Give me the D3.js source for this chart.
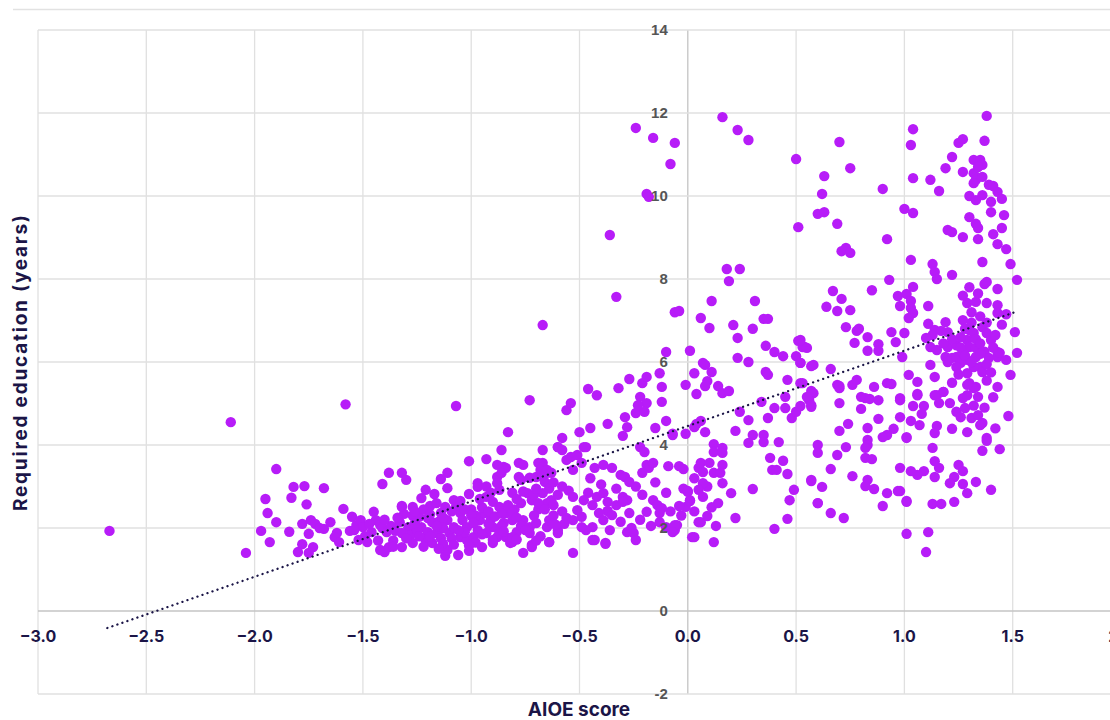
<!DOCTYPE html>
<html>
<head>
<meta charset="utf-8">
<script src="https://cdn.jsdelivr.net/npm/d3@7"></script>
<style>
  html, body { margin: 0; padding: 0; background: #fff; }
  svg { display: block; }
</style>
</head>
<body>
<div id="chart"></div>
<script>
// x ticks / y ticks
var xTicks = [-3.0, -2.5, -2.0, -1.5, -1.0, -0.5, 0.0, 0.5, 1.0, 1.5, 2.0];
var yTicks = [-2, 0, 2, 4, 6, 8, 10, 12, 14];

// occupations: [AIOE score, required education (years)]
var leftTail = [
  [-2.67, 1.93], [-2.11, 4.55], [-2.04, 1.40], [-1.58, 4.98], [-1.90, 3.42], [-1.95, 2.70],
  [-1.94, 2.36], [-1.90, 2.14], [-1.97, 1.93], [-1.93, 1.66], [-1.82, 2.99], [-1.77, 3.01],
  [-1.83, 2.73], [-1.76, 2.57], [-1.68, 2.96], [-1.84, 1.91], [-1.78, 2.10], [-1.74, 2.19],
  [-1.72, 2.10], [-1.70, 2.00], [-1.68, 1.98], [-1.75, 1.86], [-1.78, 1.61], [-1.80, 1.42],
  [-1.73, 1.54], [-1.75, 1.40], [-1.65, 2.14], [-1.62, 1.88], [-1.63, 1.78], [-1.61, 1.66],
  [-1.59, 2.46], [-1.55, 2.27], [-1.53, 2.07], [-1.51, 2.19], [-1.50, 2.02], [-1.56, 1.93],
  [-1.54, 1.95], [-1.52, 1.71], [-1.48, 1.66], [-1.45, 2.39], [-1.44, 2.19], [-1.42, 2.07],
  [-1.41, 3.06], [-1.38, 3.33], [-1.32, 3.33], [-1.30, 3.16], [-1.32, 2.51], [-1.31, 2.34],
  [-1.41, 2.00], [-1.39, 1.90], [-1.35, 1.93], [-1.33, 2.14], [-1.42, 1.47], [-1.40, 1.42],
  [-1.38, 1.54], [-1.32, 1.54]
];

var lowCluster = [
  [-1.07, 4.94], [-0.73, 5.08], [-0.83, 4.31], [-0.86, 3.88], [-0.67, 3.88], [-0.60, 3.95],
  [-1.01, 3.61], [-0.93, 3.66], [-1.14, 3.18], [-1.11, 3.33], [-1.11, 2.96], [-1.21, 2.92],
  [-1.17, 2.82], [-1.23, 2.72], [-1.32, 2.53], [-1.27, 2.51], [-1.19, 2.53], [-1.29, 2.02],
  [-1.32, 1.88], [-1.28, 1.83], [-1.27, 1.64], [-1.24, 2.27], [-1.20, 2.24], [-1.18, 2.14],
  [-1.14, 2.36], [-1.12, 2.51], [-1.11, 2.19], [-1.23, 2.02], [-1.20, 1.90], [-1.16, 1.88],
  [-1.13, 2.00], [-1.10, 1.88], [-1.21, 1.71], [-1.18, 1.64], [-1.14, 1.76], [-1.12, 1.33],
  [-1.11, 1.47], [-1.06, 1.35], [-1.01, 1.45], [-0.95, 1.54], [-0.90, 1.64], [-1.08, 2.67],
  [-1.07, 2.51], [-1.05, 2.36], [-1.04, 2.19], [-1.02, 2.02], [-1.08, 2.02], [-1.05, 1.78],
  [-1.02, 1.71], [-0.99, 1.78], [-0.97, 1.95], [-0.96, 2.19], [-0.94, 2.36], [-0.97, 3.08],
  [-0.97, 2.99], [-0.93, 2.75], [-0.90, 2.63], [-0.87, 2.92], [-0.88, 3.23], [-0.85, 3.47],
  [-0.84, 3.45], [-0.87, 2.51], [-0.84, 2.36], [-0.81, 2.19], [-0.85, 2.12], [-0.90, 2.02],
  [-0.93, 1.88], [-0.88, 1.78], [-0.84, 1.78], [-0.81, 1.66], [-0.79, 1.90], [-0.78, 3.57],
  [-0.76, 3.52], [-0.78, 3.23], [-0.77, 3.16], [-0.73, 3.21], [-0.70, 3.23], [-0.68, 3.40],
  [-0.67, 3.57], [-0.65, 3.33], [-0.74, 2.84], [-0.72, 2.67], [-0.67, 2.84], [-0.65, 2.60],
  [-0.63, 2.67], [-0.60, 2.80], [-0.76, 2.19], [-0.73, 2.02], [-0.70, 2.12], [-0.65, 2.02],
  [-0.64, 2.19], [-0.60, 1.95], [-0.73, 1.88], [-0.72, 1.59], [-0.76, 1.40], [-0.64, 1.66],
  [-1.27, 2.30], [-1.25, 1.95], [-1.36, 1.70], [-1.16, 2.60], [-1.00, 2.45], [-0.98, 2.30],
  [-0.91, 2.20], [-0.86, 2.05], [-0.80, 2.45], [-0.77, 2.60], [-0.69, 2.45], [-0.62, 2.30],
  [-0.88, 3.52], [-0.86, 3.33], [-0.88, 3.08], [-0.69, 3.57], [-0.67, 3.47], [-0.65, 3.40],
  [-0.67, 3.23], [-0.63, 3.33], [-0.66, 3.11], [-0.53, 1.40], [-0.64, 1.66], [-0.60, 1.88],
  [-0.72, 1.54], [-0.82, 1.64], [-0.81, 1.78], [-0.87, 1.88], [-0.90, 1.71]
];

var lowClusterFill = [
  [-1.26, 2.40], [-1.22, 2.45], [-1.19, 2.33], [-1.15, 2.15], [-1.13, 2.25], [-1.09, 2.40],
  [-1.06, 2.55], [-1.03, 2.45], [-1.00, 2.30], [-0.99, 2.12], [-1.03, 1.90], [-1.06, 1.95],
  [-1.09, 1.75], [-1.13, 1.62], [-1.16, 2.05], [-1.19, 1.80], [-1.24, 1.80], [-1.26, 2.12],
  [-0.95, 2.50], [-0.92, 2.40], [-0.92, 2.10], [-0.89, 2.28], [-0.86, 2.35], [-0.83, 2.55],
  [-0.81, 2.38], [-0.79, 2.25], [-0.77, 2.05], [-0.75, 1.95], [-0.71, 2.30], [-0.69, 2.60],
  [-0.66, 2.45], [-0.62, 2.55], [-0.58, 2.40], [-0.57, 2.10], [-0.61, 2.08], [-0.68, 1.80],
  [-0.70, 1.70], [-0.79, 1.72], [-0.85, 1.92], [-0.95, 1.85], [-0.98, 1.65], [-1.01, 1.58],
  [-1.08, 1.60], [-1.15, 1.50], [-1.22, 1.55], [-1.30, 1.75], [-1.34, 2.25], [-1.37, 2.05],
  [-1.40, 2.20], [-1.46, 1.90], [-1.47, 2.10], [-1.49, 1.80], [-1.36, 1.55], [-1.43, 1.70],
  [-0.96, 2.70], [-1.01, 2.82], [-1.05, 2.65], [-0.93, 3.00], [-0.91, 2.85], [-0.81, 2.85],
  [-0.79, 2.70], [-0.76, 2.88], [-0.71, 2.80], [-0.70, 2.95], [-0.64, 2.95], [-0.62, 3.10],
  [-0.58, 3.00], [-0.55, 2.90], [-0.46, 2.85], [-0.44, 2.55], [-0.42, 2.75], [-0.45, 3.20],
  [-0.43, 3.45], [-0.40, 3.05], [-0.33, 2.95], [-0.33, 2.55], [-0.31, 2.15], [-0.28, 1.90],
  [-0.22, 2.20], [-0.17, 2.05], [-0.21, 2.80], [-0.24, 3.00], [-0.15, 3.10], [-0.10, 2.85],
  [-0.08, 2.40], [-0.03, 2.30], [-0.02, 2.95], [0.03, 3.20], [0.05, 3.45], [0.09, 3.00],
  [0.11, 2.50], [0.13, 2.05], [0.03, 2.40]
];

var midCloud = [
  [-0.67, 6.89], [-0.60, 3.95], [-0.58, 3.88], [-0.58, 4.17], [-0.54, 3.71], [-0.51, 3.76],
  [-0.56, 3.64], [-0.53, 3.40], [-0.49, 3.57], [-0.48, 3.95], [-0.47, 3.95], [-0.50, 4.31],
  [-0.45, 4.41], [-0.56, 4.84], [-0.54, 5.01], [-0.46, 5.35], [-0.42, 5.20], [-0.37, 4.51],
  [-0.32, 5.37], [-0.27, 5.59], [-0.21, 5.49], [-0.19, 5.64], [-0.13, 5.73], [-0.12, 5.40],
  [-0.10, 6.24], [0.01, 6.27], [-0.30, 4.22], [-0.28, 4.43], [-0.29, 4.67], [-0.24, 4.77],
  [-0.22, 5.16], [-0.19, 5.01], [-0.20, 4.80], [-0.23, 4.96], [-0.12, 5.04], [-0.15, 4.41],
  [-0.10, 4.58], [-0.07, 4.27], [-0.01, 4.27], [-0.01, 5.45], [0.03, 5.73], [0.04, 5.23],
  [-0.22, 3.95], [-0.20, 3.83], [-0.19, 3.52], [-0.18, 3.45], [-0.21, 3.33], [-0.16, 3.57],
  [-0.09, 3.49], [-0.04, 3.49], [-0.02, 3.42], [-0.39, 3.52], [-0.35, 3.45], [-0.31, 3.28],
  [-0.29, 3.23], [-0.27, 3.11], [-0.39, 2.84], [-0.37, 2.63], [-0.37, 2.41], [-0.35, 2.31],
  [-0.41, 2.36], [-0.44, 2.02], [-0.39, 2.19], [-0.36, 1.95], [-0.38, 1.64], [-0.43, 1.71],
  [-0.47, 1.95], [-0.49, 2.27], [-0.48, 2.67], [-0.53, 2.75], [-0.51, 2.43], [-0.56, 2.24],
  [-0.53, 2.19], [-0.49, 2.02], [-0.30, 2.75], [-0.28, 2.67], [-0.30, 2.63], [-0.27, 2.36],
  [-0.25, 1.88], [-0.24, 1.71], [-0.26, 2.00], [-0.19, 2.39], [-0.16, 2.67], [-0.14, 2.55],
  [-0.13, 2.36], [-0.12, 2.48], [-0.13, 2.14], [-0.10, 2.02], [-0.06, 1.95], [-0.05, 2.07],
  [0.00, 2.87], [0.01, 2.67], [-0.01, 2.51], [0.05, 2.14], [0.02, 1.78], [-0.06, 2.07],
  [-0.07, 1.90], [-0.44, 1.71], [-0.38, 1.62]
];

var highOutliers = [
  [-0.24, 11.64], [-0.16, 11.40], [-0.06, 11.28], [-0.08, 10.77], [-0.19, 10.05], [-0.18, 9.98],
  [-0.36, 9.06], [-0.33, 7.57], [0.16, 11.90], [0.23, 11.59], [0.28, 11.35], [0.50, 10.89],
  [0.51, 9.25], [0.60, 9.57], [0.18, 8.24], [0.24, 8.24], [0.19, 7.95], [-0.06, 7.20],
  [-0.04, 7.23], [0.11, 7.47], [0.06, 7.06], [0.10, 6.82], [0.31, 7.47], [0.35, 7.04],
  [0.37, 7.04], [0.21, 6.89], [0.30, 6.80], [0.23, 6.58], [0.23, 6.10], [0.28, 6.00],
  [0.36, 6.39], [0.40, 6.24], [0.44, 6.14], [0.51, 6.51], [0.54, 6.36], [0.50, 6.14],
  [0.52, 5.98], [0.58, 5.93]
];

var posCloud = [
  [0.07, 5.98], [0.08, 5.93], [0.11, 5.76], [0.09, 5.54], [0.08, 5.42], [0.14, 5.42],
  [0.16, 5.25], [0.19, 5.30], [0.36, 5.76], [0.37, 5.69], [0.46, 5.57], [0.53, 5.49],
  [0.58, 5.25], [0.56, 5.13], [0.06, 4.58], [0.04, 4.51], [0.03, 4.43], [0.08, 4.31],
  [0.12, 4.02], [-0.07, 4.24], [0.24, 4.80], [0.28, 4.60], [0.22, 4.34], [0.30, 4.24],
  [0.28, 4.05], [0.35, 4.24], [0.35, 4.07], [0.37, 4.65], [0.40, 4.89], [0.34, 5.04],
  [0.42, 4.07], [0.38, 3.69], [0.39, 3.40], [0.41, 3.40], [0.44, 3.62], [0.46, 3.30],
  [0.45, 4.89], [0.48, 4.65], [0.50, 4.80], [0.45, 5.16], [0.52, 5.49], [0.56, 5.08],
  [0.57, 4.92], [0.06, 3.57], [0.10, 3.57], [0.07, 3.35], [0.12, 3.33], [0.15, 3.33],
  [0.16, 3.52], [0.16, 3.08], [0.07, 3.08], [0.12, 3.83], [0.16, 3.93], [0.16, 3.81],
  [0.05, 2.92], [0.07, 2.75], [0.01, 2.65], [0.00, 2.89], [-0.04, 2.53], [0.06, 2.14],
  [0.09, 2.29], [0.03, 1.78], [0.12, 1.66], [0.14, 2.60], [0.20, 2.84], [0.22, 2.24],
  [0.30, 2.94], [0.40, 1.98], [0.46, 2.22], [0.47, 2.67], [0.49, 2.92], [0.57, 3.16],
  [0.60, 2.60]
];

var rightCloud = [
  [1.38, 11.93], [1.37, 11.33], [1.04, 11.61], [1.03, 11.23], [0.70, 11.30], [0.75, 10.67],
  [0.63, 10.48], [0.62, 10.05], [1.04, 10.43], [1.12, 10.39], [1.16, 10.12], [1.22, 10.94],
  [1.19, 10.67], [1.25, 11.28], [1.27, 11.37], [1.27, 10.58], [1.32, 10.87], [1.35, 10.87],
  [1.32, 10.55], [1.33, 10.39], [1.36, 10.46], [1.32, 10.31], [1.30, 10.00], [1.33, 9.90],
  [1.36, 10.02], [1.36, 10.75], [1.34, 10.70], [1.39, 10.27], [1.41, 10.24], [1.43, 10.10],
  [1.45, 9.93], [1.40, 9.86], [1.40, 9.61], [1.46, 9.54], [1.45, 9.23], [1.41, 9.08],
  [1.43, 8.84], [1.47, 8.72], [1.49, 8.36], [1.52, 7.98], [1.30, 9.49], [1.33, 9.33],
  [1.34, 9.23], [1.34, 8.96], [1.27, 9.01], [1.20, 9.18], [1.22, 9.13], [1.00, 9.69],
  [1.04, 9.59], [0.92, 8.96], [0.90, 10.17], [0.63, 9.61], [0.69, 9.33], [0.71, 8.67],
  [0.73, 8.75], [0.75, 8.63], [1.03, 8.46], [1.04, 7.81], [0.93, 7.98], [1.13, 8.36],
  [1.14, 8.17], [1.15, 8.00], [1.22, 8.10], [1.36, 8.41], [1.37, 7.88], [1.38, 7.93],
  [1.43, 7.76], [0.85, 7.73], [0.67, 7.71], [0.71, 7.52], [0.64, 7.33], [0.69, 7.23],
  [0.75, 7.25], [0.97, 7.59], [1.01, 7.64], [0.98, 7.35], [1.03, 7.47], [1.03, 7.30],
  [1.04, 7.18], [1.02, 7.06], [1.11, 7.35], [0.73, 6.84], [0.78, 6.75], [0.79, 6.80],
  [0.77, 6.46], [0.83, 6.60], [0.83, 6.27], [0.88, 6.43], [0.88, 6.27], [0.94, 6.72],
  [0.96, 6.48], [1.00, 6.70], [1.11, 6.92], [1.14, 6.77], [1.13, 6.65], [1.19, 6.96],
  [1.20, 6.72], [1.10, 6.58], [1.12, 6.36], [1.15, 6.29], [1.20, 6.36], [1.19, 6.12],
  [1.20, 6.00], [1.22, 6.10], [1.24, 6.12], [1.27, 7.01], [1.29, 7.42], [1.33, 7.45],
  [1.38, 7.42], [1.43, 7.37], [1.43, 7.18], [1.30, 6.77], [1.32, 6.70], [1.36, 6.84],
  [1.38, 6.70], [1.40, 6.53], [1.29, 6.53], [1.30, 6.36], [1.33, 6.34], [1.27, 6.22],
  [1.29, 6.05], [1.33, 6.12], [1.35, 5.88], [1.36, 5.76], [1.32, 5.88], [1.26, 5.98],
  [1.24, 5.88], [1.29, 5.73], [1.30, 5.49], [1.33, 5.40], [1.43, 6.24], [1.43, 6.12],
  [1.44, 6.22], [1.47, 6.05], [1.52, 6.22], [1.51, 6.72], [1.49, 5.69], [1.43, 5.40],
  [1.02, 5.69], [1.06, 5.52], [1.06, 5.20], [1.14, 5.64], [1.12, 5.93], [1.15, 5.20],
  [1.18, 5.28], [0.98, 5.13], [0.92, 5.49], [0.94, 5.47], [0.86, 5.40], [0.76, 5.45],
  [0.78, 5.57], [0.69, 5.45], [0.70, 5.37], [0.66, 5.83], [0.57, 5.90], [0.52, 5.98],
  [0.53, 6.36], [0.55, 6.34], [0.52, 6.53], [0.99, 6.12]
];

var rightClump = [
  [1.24, 6.40], [1.26, 6.60], [1.28, 6.80], [1.31, 6.95], [1.33, 6.55], [1.35, 6.45],
  [1.37, 6.25], [1.39, 6.10], [1.41, 6.35], [1.38, 6.95], [1.35, 7.10], [1.31, 7.20],
  [1.26, 6.35], [1.28, 6.15], [1.31, 6.00], [1.35, 6.20], [1.38, 5.95], [1.40, 5.75],
  [1.42, 6.65], [1.45, 6.90], [1.47, 7.15], [1.34, 7.65], [1.30, 7.80], [1.27, 7.60],
  [1.22, 6.55], [1.18, 6.45], [1.17, 6.75], [1.25, 5.70], [1.22, 5.50], [1.38, 5.55],
  [1.41, 5.15], [1.37, 4.90], [1.32, 4.95], [1.24, 4.80], [1.42, 4.40]
];

var lowerRight = [
  [1.48, 4.70], [1.44, 3.90], [1.36, 3.86], [1.38, 4.17], [1.38, 4.10], [1.34, 5.16],
  [1.32, 5.37], [1.29, 5.45], [1.28, 4.89], [1.26, 4.67], [1.31, 4.65], [1.34, 4.72],
  [1.36, 4.53], [1.35, 4.48], [1.22, 4.39], [1.29, 4.31], [1.15, 4.46], [1.14, 4.29],
  [1.27, 5.13], [1.29, 5.20], [1.21, 5.01], [1.18, 5.28], [1.14, 5.20], [1.16, 5.01],
  [1.06, 5.23], [1.04, 4.94], [1.09, 4.94], [1.08, 4.75], [1.07, 4.48], [1.03, 4.58],
  [0.98, 4.67], [0.98, 5.08], [1.01, 4.17], [1.13, 3.93], [1.14, 3.61], [1.16, 3.45],
  [1.14, 3.23], [1.09, 3.37], [1.06, 3.28], [1.03, 3.37], [0.98, 3.45], [0.98, 2.89],
  [1.01, 2.63], [1.13, 2.58], [1.17, 2.58], [1.23, 2.63], [1.25, 3.52], [1.27, 3.37],
  [1.23, 3.23], [1.21, 3.08], [1.27, 3.06], [1.29, 2.84], [1.33, 3.11], [1.40, 2.92],
  [1.01, 1.86], [1.11, 1.90], [1.10, 1.42], [0.70, 5.42], [0.80, 5.16], [0.82, 5.13],
  [0.84, 5.11], [0.88, 5.08], [0.80, 4.87], [0.70, 5.01], [0.57, 5.30], [0.55, 5.16],
  [0.57, 4.96], [0.52, 4.94], [0.83, 4.41], [0.88, 4.63], [0.74, 4.51], [0.70, 4.34],
  [0.95, 4.39], [0.92, 4.24], [0.90, 4.19], [1.01, 4.19], [0.83, 4.12], [0.83, 4.00],
  [0.82, 3.93], [0.73, 3.95], [0.69, 3.76], [0.82, 3.69], [0.85, 3.66], [0.60, 4.00],
  [0.60, 3.81], [0.66, 3.42], [0.76, 3.25], [0.83, 3.16], [0.82, 3.01], [0.86, 2.94],
  [0.92, 2.84], [0.97, 2.89], [0.57, 3.13], [0.62, 2.99], [0.60, 2.60], [0.66, 2.36],
  [0.72, 2.24], [0.90, 2.53], [1.01, 2.65]
];

// dotted fit line, end points
var trendLine = [[-2.68, -0.41], [1.51, 7.20]];

var points = [].concat(leftTail, lowCluster, lowClusterFill, midCloud, highOutliers,
  posCloud, rightCloud, rightClump, lowerRight);

var width = 1110, height = 720;
var svg = d3.select('#chart').append('svg')
  .attr('width', width)
  .attr('height', height);

var x = d3.scaleLinear().domain([-3, 2]).range([38, 1121]);
var y = d3.scaleLinear().domain([-2, 14]).range([694, 30]);

var navy = '#1b1547';

// thin separator on top
svg.append('line')
  .attr('x1', 13).attr('x2', width)
  .attr('y1', 9.5).attr('y2', 9.5)
  .attr('stroke', '#e2e2e2').attr('stroke-width', 1.5);

// grid
svg.append('g').selectAll('line')
  .data(xTicks)
  .join('line')
  .attr('x1', function(d) { return x(d); })
  .attr('x2', function(d) { return x(d); })
  .attr('y1', y(14)).attr('y2', y(-2))
  .attr('stroke', function(d) { return d === 0 ? '#c4c4c4' : '#e0e0e0'; })
  .attr('stroke-width', 1.3);

svg.append('g').selectAll('line')
  .data(yTicks)
  .join('line')
  .attr('x1', x(-3)).attr('x2', width)
  .attr('y1', function(d) { return y(d); })
  .attr('y2', function(d) { return y(d); })
  .attr('stroke', function(d) { return d === 0 ? '#c4c4c4' : '#e0e0e0'; })
  .attr('stroke-width', 1.3);

// points
svg.append('g').selectAll('circle')
  .data(points)
  .join('circle')
  .attr('cx', function(d) { return x(d[0]); })
  .attr('cy', function(d) { return y(d[1]); })
  .attr('r', 5.2)
  .attr('fill', '#b71cf8');

// trend
svg.append('path')
  .datum(trendLine)
  .attr('d', d3.line().x(function(d) { return x(d[0]); }).y(function(d) { return y(d[1]); }))
  .attr('fill', 'none')
  .attr('stroke', navy)
  .attr('stroke-width', 2.3)
  .attr('stroke-linecap', 'round')
  .attr('stroke-dasharray', '0.1,5.2');

// y tick labels, sitting at x = 0
svg.append('g').selectAll('text')
  .data(yTicks)
  .join('text')
  .attr('x', x(0) - 20)
  .attr('y', function(d) { return y(d); })
  .attr('dy', '0.35em')
  .attr('text-anchor', 'end')
  .attr('font-family', 'Liberation Sans, Arial, sans-serif')
  .attr('font-weight', 700)
  .attr('font-size', 15)
  .attr('fill', '#555')
  .text(function(d) { return d; });

// x tick labels (the last one runs off the right edge, as in the source)
svg.append('g').selectAll('text')
  .data(xTicks)
  .join('text')
  .attr('x', function(d) { return x(d); })
  .attr('y', y(0) + 25)
  .attr('dy', '0.35em')
  .attr('text-anchor', 'middle')
  .attr('font-family', 'Inter, sans-serif')
  .attr('font-weight', 700)
  .attr('font-size', 16)
  .attr('fill', navy)
  .text(function(d) { return d3.format('.1f')(d); });

// axis titles
svg.append('text')
  .attr('x', 579).attr('y', 716)
  .attr('text-anchor', 'middle')
  .attr('font-family', 'Inter, sans-serif')
  .attr('font-weight', 700)
  .attr('font-size', 19)
  .attr('fill', navy)
  .text('AIOE score');

svg.append('text')
  .attr('transform', 'translate(27,363) rotate(-90)')
  .attr('text-anchor', 'middle')
  .attr('font-family', 'Inter, sans-serif')
  .attr('font-weight', 700)
  .attr('font-size', 19)
  .attr('textLength', 296)
  .attr('lengthAdjust', 'spacing')
  .attr('fill', navy)
  .text('Required education (years)');
</script>
</body>
</html>
